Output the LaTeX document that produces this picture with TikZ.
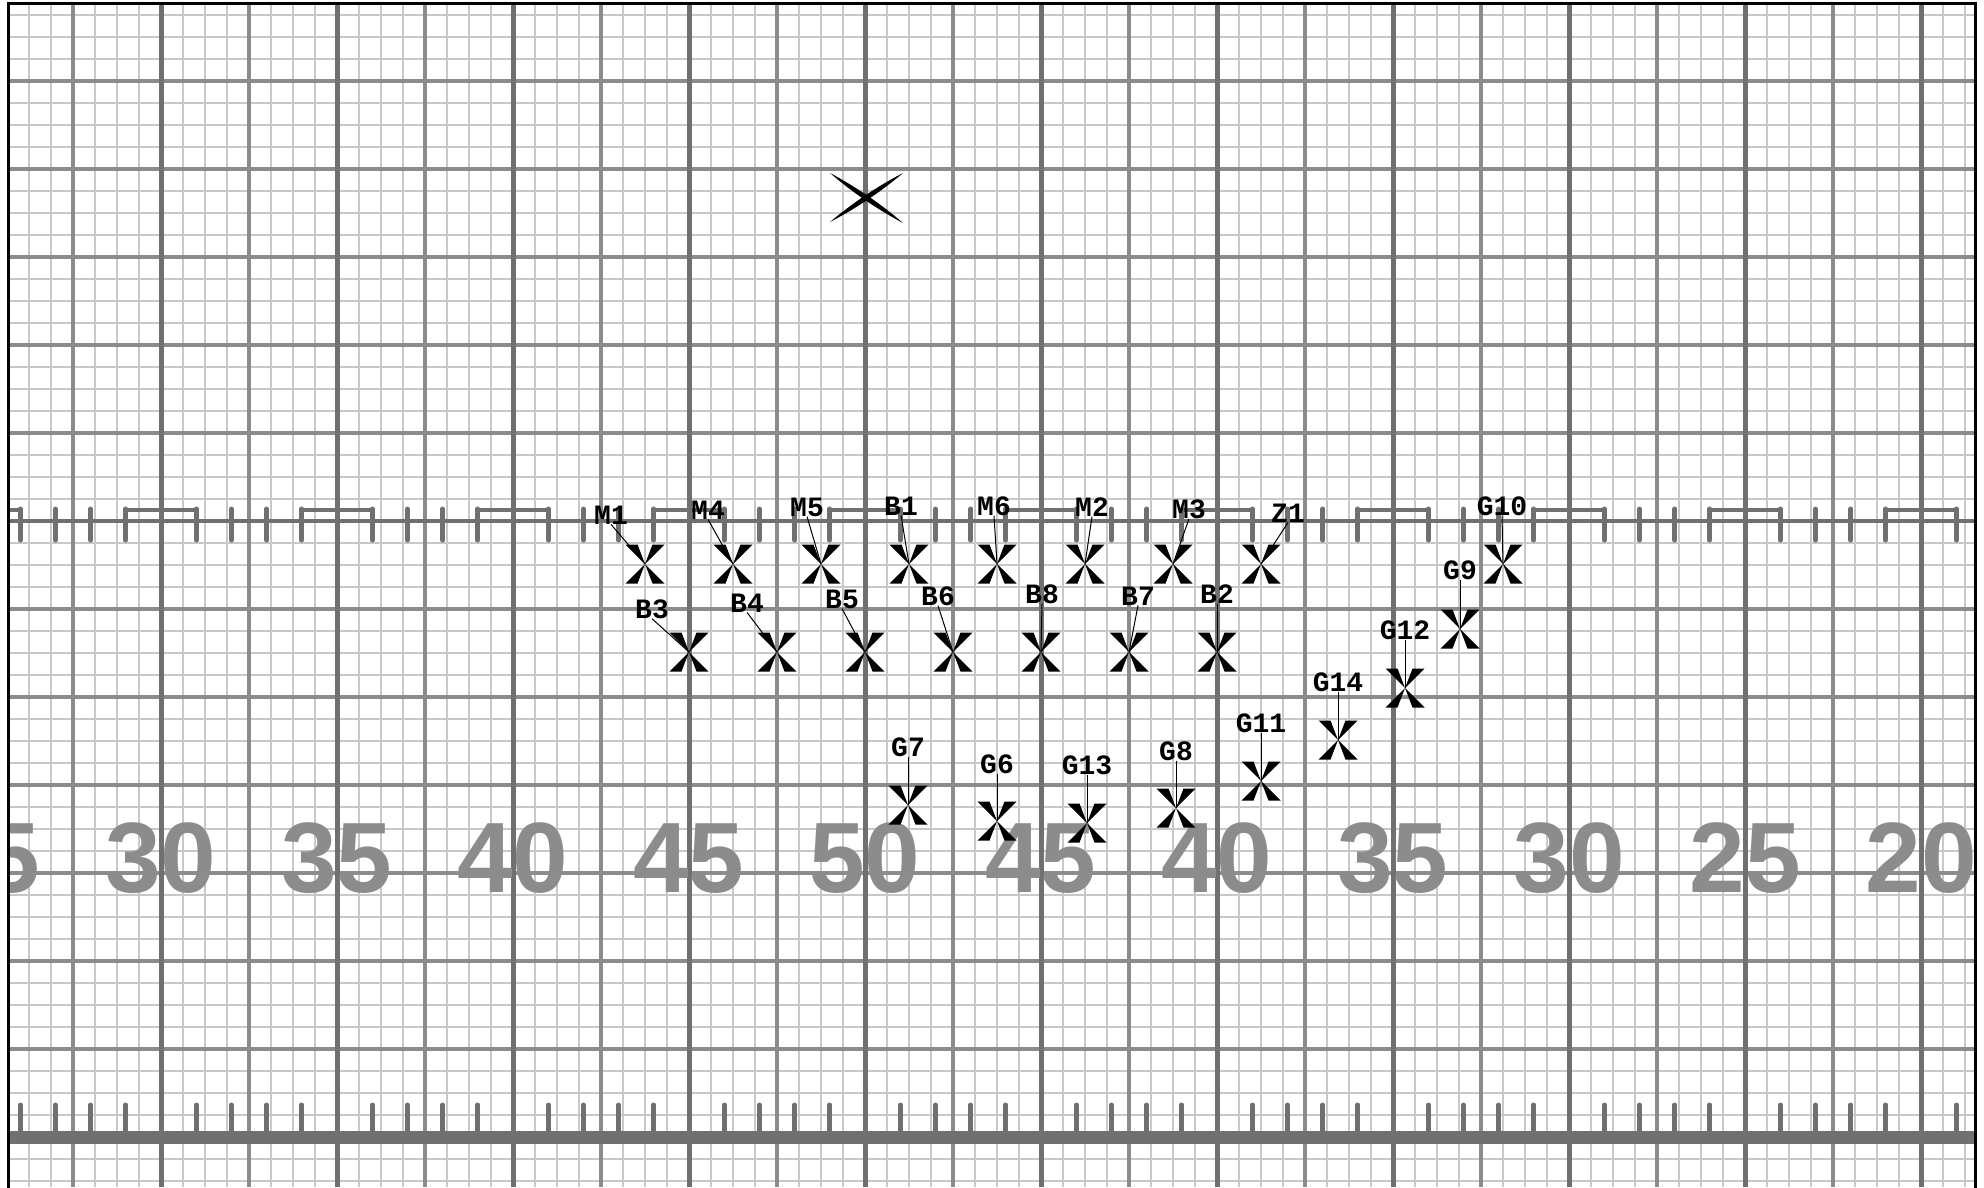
\documentclass[tikz,border=0pt]{standalone}
\usepackage{fontspec}
\newfontfamily\numfont{Liberation Sans}
\newfontfamily\lblfont{Liberation Mono}
\definecolor{gridlight}{RGB}{200,200,200}
\definecolor{gridmed}{RGB}{140,140,140}
\definecolor{griddark}{RGB}{112,112,112}
\tikzset{
  lightline/.style={draw=gridlight,line width=2pt},
  medline/.style={draw=gridmed,line width=4pt},
  darkline/.style={draw=griddark,line width=5pt},
  hashline/.style={draw=griddark,line width=4pt},
  hashtick/.style={draw=griddark,line width=5pt,line cap=round},
  hashbar/.style={draw=griddark,line width=4.5pt,line cap=round},
  sideline/.style={draw=griddark,line width=13pt},
  yardnum/.style={font=\numfont\bfseries\fontsize{100}{100}\selectfont,text=gridmed,anchor=base,inner sep=0pt},
  lbl/.style={font=\lblfont\bfseries\fontsize{28}{28}\selectfont,inner sep=0pt,text=black},
  leader/.style={draw=black,line width=1pt},
  drillx/.pic={
    \fill[black] (0,0) -- (-19.5,-19.5) -- (-7.5,-19.5) -- cycle
                 (0,0) -- (19.5,-19.5) -- (7.5,-19.5) -- cycle
                 (0,0) -- (-19.5,19.5) -- (-7.5,19.5) -- cycle
                 (0,0) -- (19.5,19.5) -- (7.5,19.5) -- cycle;
  }
}
\begin{document}
\begin{tikzpicture}[x=1pt,y=-1pt]
\useasboundingbox (0,0) rectangle (1984,1187);
\fill[white] (0,0) rectangle (1984,1187);
\begin{scope}
  \clip (8,3) rectangle (1975,1187);
  % light grid, one line every step of 22
  \foreach \gx in {7,29,...,1975} \draw[lightline] (\gx,0) -- (\gx,1187);
  \foreach \gy in {15,37,...,1187} \draw[lightline] (0,\gy) -- (1984,\gy);
  % medium lines, every 4 steps
  \foreach \gx in {73,249,...,1975} \draw[medline] (\gx,0) -- (\gx,1187);
  \foreach \gy in {81,169,...,1100} \draw[medline] (0,\gy) -- (1984,\gy);
  % yard lines
  \foreach \gx in {161,337,...,1975} \draw[darkline] (\gx,0) -- (\gx,1187);
  % hash line, bars and ticks
  \draw[hashline] (0,521) -- (1984,521);
  \foreach \gx in {-15,161,...,2000} \draw[hashbar] ({\gx-35.2},510) -- ({\gx+35.2},510);
  \draw[sideline] (0,1137) -- (1984,1137);
  \foreach \j in {-4,...,51} {
    \pgfmathtruncatemacro\r{mod(\j+100,5)}
    \ifnum\r=0\relax\else
      \draw[hashtick] ({161+35.2*\j},509) -- ({161+35.2*\j},540);
      \draw[hashtick] ({161+35.2*\j},1105) -- ({161+35.2*\j},1135);
    \fi
  }
  % yard numbers
  \foreach \k/\n in {-1/25,0/30,1/35,2/40,3/45,4/50,5/45,6/40,7/35,8/30,9/25,10/20}
    \node[yardnum] (num\k) at ({161+176*\k},892) {\n};
\end{scope}
% border
\draw[line width=3pt,black] (8,1195) -- (8,3) -- (1975,3) -- (1975,1195);
% big X at top
\fill[black] (830,173) .. controls (852.4,192.4) and (876.8,209.0) .. (903,223)
                       .. controls (880.6,203.6) and (856.2,187.0) .. cycle;
\fill[black] (830,222) .. controls (856.1,208.4) and (880.5,192.0) .. (903,173)
                       .. controls (876.9,186.6) and (852.5,203.0) .. cycle;
% drill markers
\foreach \nm/\mx/\my/\lx/\ly in {
  M1/645/564/611/515, M4/733/564/708/510, M5/821/564/807/507,
  B1/909/564/901/506, M6/997/564/994/506, M2/1085/564/1092/507,
  M3/1173/564/1189/509, Z1/1261/564/1288/513, G10/1503/564/1502/506,
  B3/689/652/652/609, B4/777/652/747/603, B5/865/652/842/599,
  B6/953/652/938/596, B8/1041/652/1042/594, B7/1129/652/1138/596,
  B2/1217/652/1217/594,
  G9/1460/629/1460/570, G12/1405/688/1405/630, G14/1338/740/1338/682,
  G11/1261/781/1261/723, G8/1176/808/1176/751, G13/1087/823/1087/765,
  G6/997/821/997/764, G7/908/805/908/747} {
  \coordinate (p\nm) at (\mx,\my);
  \node[lbl] (l\nm) at (\lx,\ly) {\nm};
  \draw[leader] (l\nm.south) -- (p\nm);
  \pic at (p\nm) {drillx};
}
\end{tikzpicture}
\end{document}
